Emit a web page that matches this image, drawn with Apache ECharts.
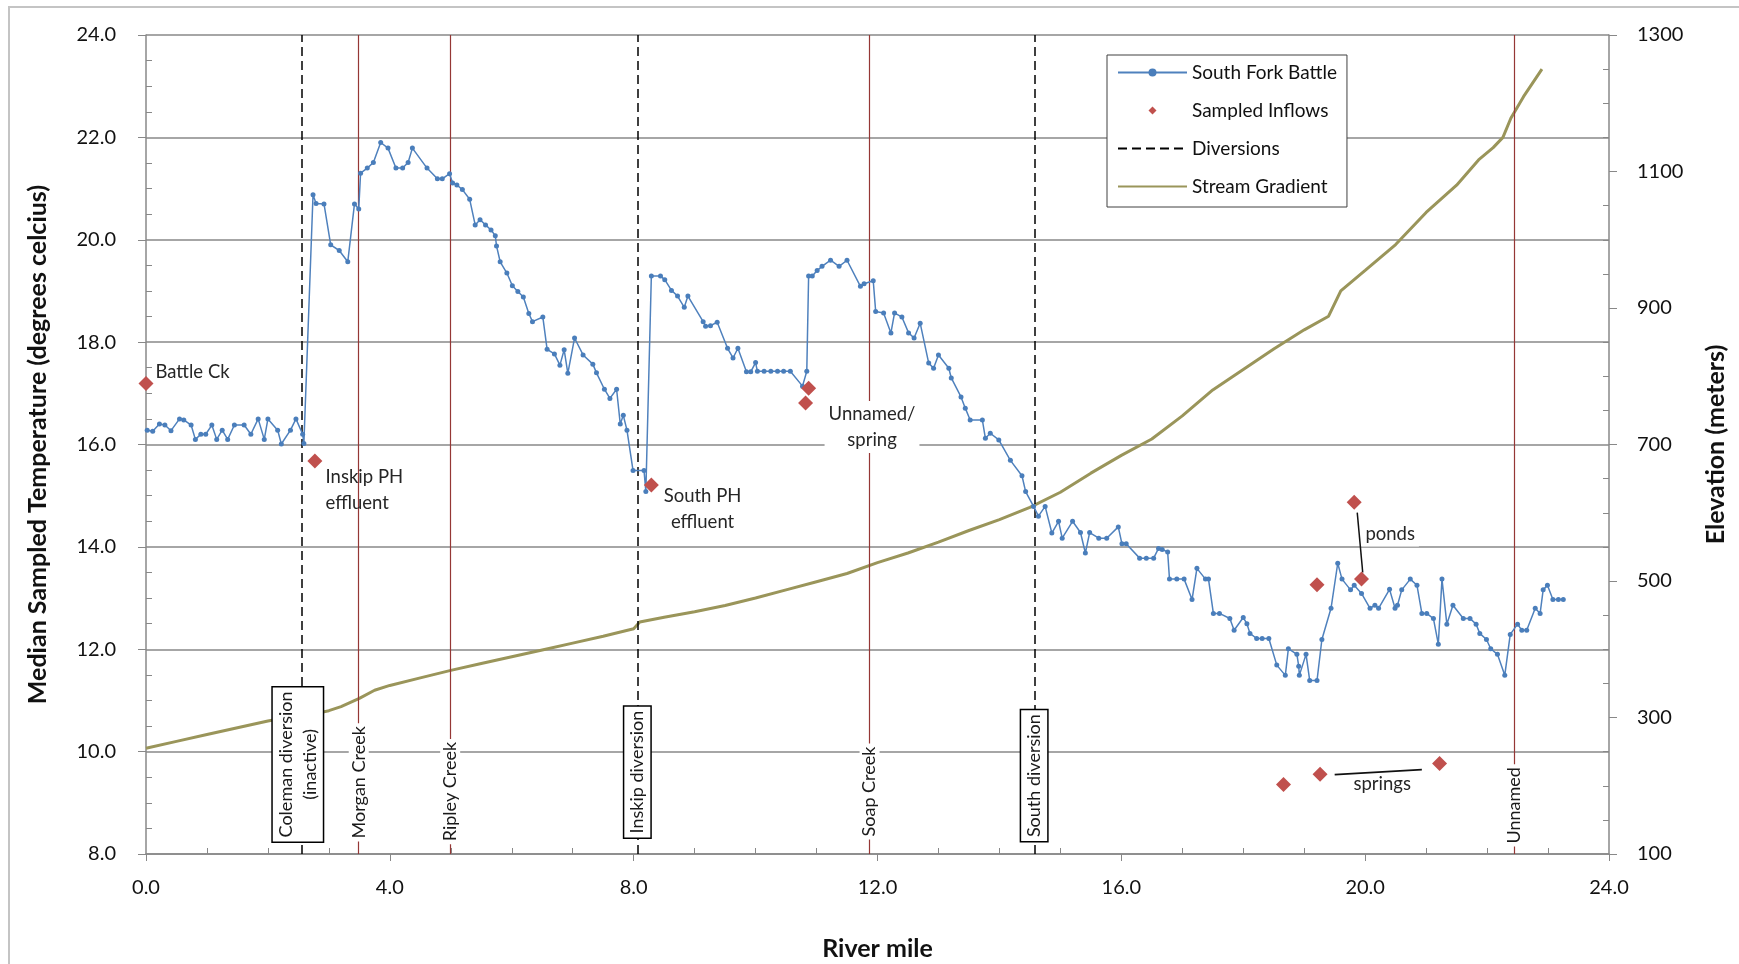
<!DOCTYPE html>
<html>
<head>
<meta charset="utf-8">
<script src="https://cdn.jsdelivr.net/npm/echarts@6/dist/echarts.min.js"></script>
<style>
html, body { margin: 0; padding: 0; background: #fff; }
#main { width: 1739px; height: 964px; }
</style>
</head>
<body>
<div id="main"></div>
<script>
// South Fork Battle - median sampled temperature (river mile, deg C)
var sfbMiles = [0.02,0.11,0.22,0.31,0.41,0.55,0.62,0.74,0.81,0.90,0.98,1.08,1.16,1.25,1.34,1.45,1.61,1.72,1.84,1.94,
  2.00,2.16,2.22,2.37,2.46,2.57,2.59,2.74,2.79,2.92,3.03,3.17,3.31,3.42,3.49,3.52,3.63,3.73,3.85,3.97,
  4.10,4.21,4.30,4.37,4.61,4.78,4.86,4.98,5.03,5.10,5.19,5.31,5.40,5.48,5.57,5.66,5.73,5.75,5.81,5.92,
  6.01,6.10,6.19,6.28,6.34,6.51,6.58,6.70,6.79,6.86,6.92,7.03,7.17,7.33,7.39,7.52,7.61,7.72,7.78,7.83,
  7.89,7.99,8.17,8.20,8.29,8.44,8.51,8.62,8.72,8.83,8.89,9.14,9.18,9.26,9.37,9.54,9.63,9.71,9.85,9.92,
  10.00,10.03,10.14,10.25,10.36,10.46,10.57,10.77,10.84,10.87,10.93,11.01,11.09,11.23,11.37,11.50,11.72,11.78,11.93,11.97,
  12.10,12.22,12.28,12.40,12.51,12.60,12.70,12.84,12.92,13.00,13.17,13.21,13.37,13.44,13.52,13.72,13.77,13.85,13.99,14.18,
  14.37,14.43,14.56,14.64,14.75,14.86,14.97,15.03,15.20,15.33,15.41,15.48,15.63,15.76,15.95,16.01,16.08,16.30,16.41,16.53,
  16.61,16.67,16.76,16.79,16.91,17.03,17.16,17.24,17.38,17.43,17.51,17.61,17.78,17.85,18.00,18.06,18.11,18.22,18.31,18.42,
  18.55,18.69,18.74,18.88,18.91,18.92,19.03,19.09,19.21,19.29,19.44,19.55,19.62,19.76,19.82,19.94,20.08,20.16,20.22,20.40,
  20.49,20.53,20.60,20.74,20.85,20.93,21.01,21.12,21.20,21.26,21.34,21.44,21.61,21.72,21.82,21.88,21.99,22.06,22.17,22.29,
  22.38,22.50,22.57,22.65,22.79,22.87,22.92,22.99,23.08,23.17,23.25];
var sfbTemps = [16.28,16.26,16.40,16.38,16.27,16.50,16.48,16.38,16.10,16.20,16.20,16.38,16.10,16.28,16.10,16.38,16.38,16.20,16.50,16.10,
  16.50,16.28,16.01,16.28,16.50,16.20,16.02,20.88,20.71,20.70,19.90,19.79,19.57,20.70,20.60,21.30,21.40,21.51,21.90,21.79,
  21.40,21.40,21.51,21.79,21.40,21.19,21.19,21.29,21.11,21.07,20.98,20.79,20.29,20.39,20.29,20.19,20.08,19.88,19.57,19.35,
  19.10,18.99,18.88,18.56,18.40,18.49,17.86,17.77,17.55,17.85,17.39,18.08,17.75,17.57,17.40,17.08,16.90,17.08,16.40,16.57,
  16.28,15.49,15.49,15.08,19.29,19.29,19.22,19.01,18.90,18.68,18.90,18.40,18.31,18.32,18.39,17.88,17.69,17.88,17.42,17.42,
  17.60,17.43,17.43,17.43,17.43,17.43,17.43,17.14,17.43,19.29,19.29,19.40,19.48,19.60,19.48,19.60,19.09,19.14,19.20,18.60,
  18.57,18.18,18.57,18.49,18.18,18.08,18.37,17.59,17.49,17.75,17.49,17.30,16.93,16.71,16.48,16.48,16.12,16.22,16.09,15.69,
  15.39,15.08,14.79,14.60,14.79,14.27,14.50,14.17,14.50,14.28,13.88,14.28,14.17,14.17,14.39,14.06,14.06,13.78,13.78,13.78,
  13.97,13.95,13.90,13.37,13.37,13.37,12.97,13.58,13.37,13.37,12.70,12.70,12.60,12.37,12.62,12.50,12.31,12.21,12.21,12.21,
  11.69,11.49,12.01,11.90,11.67,11.49,11.90,11.39,11.39,12.19,12.80,13.68,13.37,13.16,13.25,13.09,12.80,12.86,12.80,13.17,
  12.80,12.86,13.16,13.37,13.25,12.70,12.70,12.60,12.10,13.37,12.49,12.86,12.60,12.60,12.49,12.31,12.19,12.01,11.90,11.49,
  12.29,12.49,12.37,12.37,12.80,12.70,13.16,13.25,12.97,12.97,12.97];

// sampled inflows (river mile, deg C)
var inflowMiles = [0.0, 2.77, 8.29, 10.87, 10.82, 19.82, 19.94, 19.21, 18.66, 19.26, 21.22];
var inflowTemps = [17.19, 15.68, 15.21, 17.10, 16.81, 14.87, 13.37, 13.26, 9.36, 9.56, 9.77];

// stream gradient (river mile, elevation m)
var gradMiles = [0.0,0.5,1.0,1.5,2.0,2.5,2.8,3.0,3.2,3.5,3.75,4.0,4.5,5.0,5.5,6.0,6.5,7.0,7.5,8.0,
  8.1,8.5,9.0,9.5,10.0,10.5,11.0,11.5,12.0,12.5,13.0,13.5,14.0,14.5,15.0,15.5,16.0,16.5,17.0,17.5,
  18.0,18.5,19.0,19.4,19.6,20.0,20.5,21.0,21.5,21.86,22.1,22.26,22.39,22.6,22.9];
var gradElev = [255,265,275,285,295,303,306,310,316,328,340,347,358,369,379,389,399,409,419,430,
  440,447,455,464,475,487,499,511,527,541,557,574,590,608,630,658,684,708,742,780,
  810,840,868,888,925,955,993,1040,1080,1117,1135,1150,1178,1210,1250];

// reference lines
var diversionMiles = [2.55, 8.07, 14.58];
var diversionNames = ['Coleman diversion\n(inactive)', 'Inskip diversion', 'South diversion'];
var diversionLabelMiles = [2.49, 8.06, 14.57];
var diversionLabelTemps = [9.75, 9.60, 9.53];
var creekMiles = [3.49, 4.99, 11.87, 22.44];
var creekNames = ['Morgan Creek', 'Ripley Creek', 'Soap Creek', 'Unnamed'];
var creekLabelTemps = [9.40, 9.22, 9.22, 8.95];

// text notes
var noteText = ['Battle Ck', 'Inskip PH\neffluent', 'South PH\neffluent', 'Unnamed/\nspring', 'ponds', 'springs'];
var noteMiles = [0.09, 2.88, 9.13, 11.91, 20.41, 20.28];
var noteTemps = [17.42, 15.12, 14.74, 16.34, 14.26, 9.36];
var noteAlign = ['left', 'left', 'center', 'center', 'center', 'center'];
var noteMasked = [false, false, false, true, true, false];
var pondsLeader = [[19.87, 14.67], [19.96, 13.50]];
var springsLeader = [[19.50, 9.55], [20.93, 9.65]];

var FONT = 'Lato, "Open Sans", sans-serif';
var GRIDC = '#888888';
var HIDDEN = { color: 'rgba(0,0,0,0)', borderWidth: 0 };
// invisible anchor for text-only scatter series (opacity 1 so labels stay opaque)
var ANCHOR = { color: 'rgba(0,0,0,0)', opacity: 1 };

var chart = echarts.init(document.getElementById('main'), null, { renderer: 'canvas' });

function pairs(xs, ys) {
    return xs.map(function (x, i) { return [x, ys[i]]; });
}
function fix1(v) { return v.toFixed(1); }

var option = {
    animation: false,
    backgroundColor: '#fff',
    textStyle: { fontFamily: FONT },
    graphic: [{
        type: 'rect', silent: true,
        shape: { x: 9, y: 7, width: 1800, height: 1000 },
        style: { fill: 'none', stroke: '#c4c4c4', lineWidth: 2 }
    }],
    grid: { left: 146, right: 130, top: 35, bottom: 110, outerBoundsMode: 'none' },
    legend: {
        orient: 'vertical',
        left: 1107, top: 55,
        itemWidth: 69, itemHeight: 10, itemGap: 19,
        padding: [8, 10, 11, 10],
        borderColor: '#404040', borderWidth: 1, backgroundColor: '#fff',
        textStyle: { fontFamily: FONT, fontSize: 19, color: '#111' },
        data: [
            { name: 'South Fork Battle' },
            { name: 'Sampled Inflows' },
            { name: 'Diversions', itemStyle: HIDDEN },
            { name: 'Stream Gradient', itemStyle: HIDDEN }
        ]
    },
    xAxis: {
        type: 'value', min: 0, max: 24, interval: 4,
        name: 'River mile', nameLocation: 'middle', nameGap: 82,
        nameTextStyle: { fontFamily: FONT, fontSize: 25, fontWeight: 'bold', color: '#111' },
        axisLine: { show: true, onZero: false, lineStyle: { color: GRIDC, width: 1.5 } },
        axisTick: { show: true, length: 7, lineStyle: { color: GRIDC } },
        minorTick: { show: true, splitNumber: 4, length: -6, lineStyle: { color: GRIDC } },
        axisLabel: { formatter: fix1, fontSize: 20, color: '#111', margin: 24, fontFamily: FONT },
        splitLine: { show: false }
    },
    yAxis: [{
        type: 'value', min: 8, max: 24, interval: 2,
        name: 'Median Sampled Temperature (degrees celcius)', nameLocation: 'middle', nameGap: 96,
        nameTextStyle: { fontFamily: FONT, fontSize: 25, fontWeight: 'bold', color: '#111' },
        axisLine: { show: true, lineStyle: { color: GRIDC, width: 1.5 } },
        axisTick: { show: true, length: 8, lineStyle: { color: GRIDC } },
        minorTick: { show: true, splitNumber: 4, length: -6, lineStyle: { color: GRIDC } },
        axisLabel: { formatter: fix1, fontSize: 20, color: '#111', margin: 30, fontFamily: FONT },
        splitLine: { show: true, lineStyle: { color: GRIDC, width: 1.5 } }
    }, {
        type: 'value', min: 100, max: 1300, interval: 200, position: 'right',
        name: 'Elevation (meters)', nameLocation: 'middle', nameGap: 94, nameRotate: 90,
        nameTextStyle: { fontFamily: FONT, fontSize: 25, fontWeight: 'bold', color: '#111' },
        axisLine: { show: true, lineStyle: { color: GRIDC, width: 1.5 } },
        axisTick: { show: true, length: 8, lineStyle: { color: GRIDC } },
        minorTick: { show: true, splitNumber: 4, length: -6, lineStyle: { color: GRIDC } },
        axisLabel: {
            formatter: function (v) { return String(v); },
            fontSize: 20, color: '#111', margin: 28, fontFamily: FONT
        },
        splitLine: { show: false }
    }],
    series: [{
        name: 'Stream Gradient', type: 'line', yAxisIndex: 1, z: 2,
        data: pairs(gradMiles, gradElev),
        symbol: 'none', smooth: false,
        lineStyle: { color: '#9A955A', width: 3 },
        itemStyle: { color: '#9A955A' }
    }, {
        name: 'Creeks', type: 'line', data: [], z: 3,
        markLine: {
            silent: true, symbol: 'none', animation: false, z: 3,
            label: { show: false },
            lineStyle: { color: '#953735', width: 1.2, type: 'solid' },
            data: creekMiles.map(function (m) { return { xAxis: m }; })
        }
    }, {
        name: 'Diversions', type: 'line', data: [], z: 3,
        symbol: 'none',
        lineStyle: { color: '#000', width: 1.5, type: [9, 5] },
        itemStyle: { color: '#000' },
        markLine: {
            silent: true, symbol: 'none', animation: false, z: 3,
            label: { show: false },
            lineStyle: { color: '#000', width: 1.5, type: [9, 5] },
            data: diversionMiles.map(function (m) { return { xAxis: m }; })
        }
    }, {
        name: 'South Fork Battle', type: 'line', z: 5,
        data: pairs(sfbMiles, sfbTemps),
        symbol: 'circle', symbolSize: 5, showSymbol: true,
        lineStyle: { color: '#4F81BD', width: 1.5 },
        itemStyle: { color: '#4A7EBB' }
    }, {
        // drawn as markers only, so the legend gets a small diamond
        name: 'Sampled Inflows', type: 'line', z: 7,
        data: pairs(inflowMiles, inflowTemps),
        symbol: 'diamond', symbolSize: 15, showSymbol: true,
        lineStyle: { width: 0, opacity: 0 },
        itemStyle: { color: '#C0504D' }
    }, {
        name: 'leaderPonds', type: 'line', z: 6, silent: true,
        data: pondsLeader, symbol: 'none',
        lineStyle: { color: '#111', width: 1.5 }
    }, {
        name: 'leaderSprings', type: 'line', z: 6, silent: true,
        data: springsLeader, symbol: 'none',
        lineStyle: { color: '#111', width: 1.8 }
    }, {
        name: 'creekLabels', type: 'scatter', z: 30, silent: true,
        symbolSize: 1, itemStyle: ANCHOR,
        data: creekNames.map(function (n, i) {
            return { name: n, value: [creekMiles[i], creekLabelTemps[i]] };
        }),
        label: {
            show: true, position: 'inside', rotate: 90, align: 'center', verticalAlign: 'middle',
            formatter: '{b}', fontFamily: FONT, fontSize: 18, color: '#1a1a1a', opacity: 1,
            backgroundColor: '#fff', padding: [1, 3]
        }
    }, {
        name: 'diversionLabels', type: 'scatter', z: 30, silent: true,
        symbolSize: 1, itemStyle: ANCHOR,
        data: diversionNames.map(function (n, i) {
            return { name: n, value: [diversionLabelMiles[i], diversionLabelTemps[i]] };
        }),
        label: {
            show: true, position: 'inside', rotate: 90, align: 'center', verticalAlign: 'middle',
            formatter: '{b}', fontFamily: FONT, fontSize: 18, lineHeight: 24, color: '#1a1a1a', opacity: 1,
            backgroundColor: '#fff', borderColor: '#000', borderWidth: 1.5, padding: [1, 4]
        }
    }, {
        name: 'notes', type: 'scatter', z: 30, silent: true,
        symbolSize: 1, itemStyle: ANCHOR,
        data: noteText.map(function (t, i) {
            return {
                name: t, value: [noteMiles[i], noteTemps[i]],
                label: {
                    align: noteAlign[i],
                    backgroundColor: noteMasked[i] ? '#fff' : 'transparent'
                }
            };
        }),
        label: {
            show: true, position: 'inside', verticalAlign: 'middle',
            formatter: '{b}', fontFamily: FONT, fontSize: 18.5, lineHeight: 26, color: '#262626', opacity: 1,
            padding: [0, 4]
        }
    }]
};

chart.setOption(option);
</script>
</body>
</html>
